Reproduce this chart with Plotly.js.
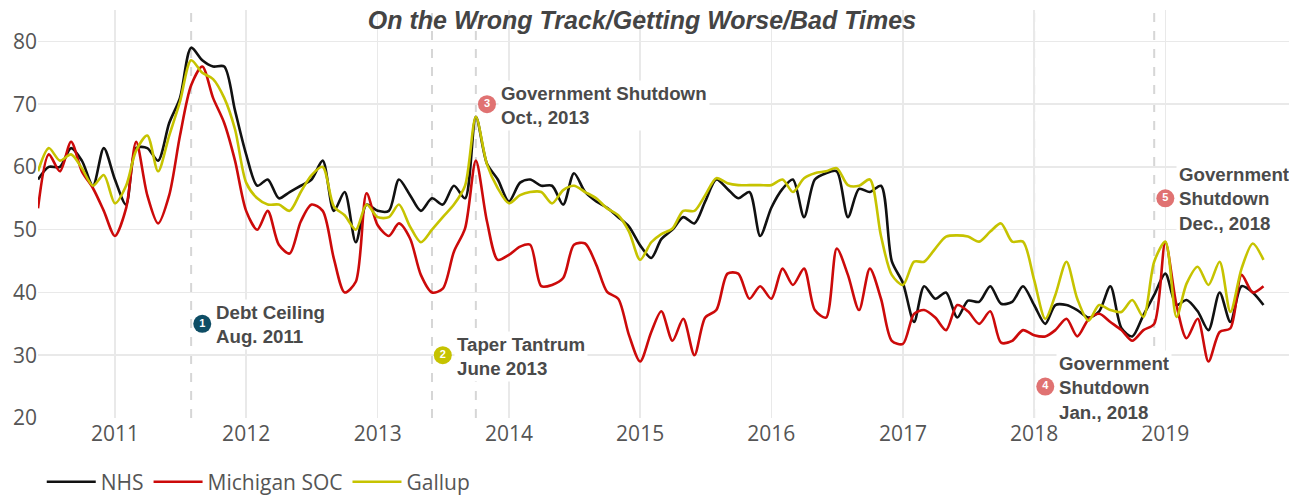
<!DOCTYPE html>
<html>
<head>
<meta charset="utf-8">
<script src="https://cdn.plot.ly/plotly-3.0.1.min.js"></script>
<style>html,body{margin:0;padding:0;background:#fff;}#chart{width:1289px;height:495px;}</style>
</head>
<body>
<div id="chart"></div>
<script>
// Monthly series, June 2010 – October 2019
var startYear = 2010, startMonth = 6, nMonths = 113;
var months = [];
for (var i = 0; i < nMonths; i++) {
  var mm = startMonth - 1 + i;
  var y = startYear + Math.floor(mm / 12);
  var m = (mm % 12) + 1;
  months.push(y + '-' + (m < 10 ? '0' + m : m) + '-01');
}

var nhs = [58,60,60,63,61,57,63,58,54,63, 63,61,67,71,79,77,76,76,69,62,
           57,58,55,56,57,58,61,53,56,48, 54,53,53,58,55.5,53,55,54,57,55,
           68,60.5,58,54.5,57.5,58,57,57,54,59, 56,54.5,53.5,52,50.5,47.5,45.5,48.5,50,52,
           51,54.5,58,56.5,55,56,49,53.5,56.5,58, 52,58,59,59.3,52,56.5,56,57,45,41.5,
           35.3,41,39,40,36,38.7,38.5,41,38.2,38.5, 41,38,35,38,38,37.2,36,37,41,34.3,
           33,36.4,39.6,43,38,38.8,37,34,40,35.3, 41,40,38];

var michigan = [53.4,62,59.3,64,59.3,56.6,53,49,53.4,64, 55.5,51,55.5,65,73,76,71,67,61,53,
                50,53,47.6,46.2,51.3,54,53,45.4,40,41.7, 55.8,50.7,49,51,48.6,42.8,40,40.6,46.5,50.2,
                61,51.3,45.2,46,47.3,47.6,41,41.2,42.3,47.6, 47.8,44.4,40.1,39,33.2,29,33.7,37,32.3,35.8,
                30,36,37.2,43,43,39,41,39,43.8,41.2, 43.8,37.2,36,47,42.8,37.2,43.8,39,32.3,31.8,
                36.6,37.2,36,34,38,37,35,37,32,32.3, 34,33.2,33,34,35.8,33,35.7,36.6,35.3,34,
                32.3,34,35,48,38,32.7,35.8,29,33.7,34.3, 42.8,40,41];

var gallup = [59.3,63,61,62,59.8,57,58.7,54.2,57,62.6, 65,59.3,65,70.4,77,75,74,71,66,57.5,
              55,54,54,53,56,58.7,60,53.7,52.3,50, 54,52,52,54,50.5,48,50,52,54,57,
              68,60.4,56.6,54.2,55.5,56,56,54.2,56.3,57, 56,55,53.4,52.3,49.7,45.2,48,49.3,50.2,53,
              53,55.5,58.2,57.4,57.1,57.1,57.1,57.1,58,56, 58.2,59,59.3,59.8,57.1,57,58,49,42.8,41.2,
              44.9,44.9,47,48.9,49.1,48.9,48.1,49.7,51,48.1, 48.1,42,35.8,39.6,44.9,39,35.5,38,37.2,36.9,
              38.8,36.1,44.9,48.1,36.1,41.4,44.1,41.2,44.9,36.9, 43.8,47.8,45.2];

var seriesNames = ['NHS', 'Michigan SOC', 'Gallup'];
var seriesColors = ['#111111', '#cc0a0a', '#c6c300'];

// Events
var eventLines = ['2011-08-01', '2013-06-01', '2013-10-01', '2018-01-01', '2018-12-01'];
var eventNums = ['1', '2', '3', '4', '5'];
var eventX = ['2011-09-01', '2013-07-01', '2013-11-01', '2018-02-01', '2019-01-01'];
var eventY = [35, 30, 70, 25, 55];
var eventColors = ['#0e4d65', '#c6c300', '#e07272', '#e07272', '#e07272'];
var eventLabels = ['Debt Ceiling<br>Aug. 2011', 'Taper Tantrum<br>June 2013',
                   'Government Shutdown<br>Oct., 2013', 'Government<br>Shutdown<br>Jan., 2018',
                   'Government<br>Shutdown<br>Dec., 2018'];

var seriesData = [nhs, michigan, gallup];
var traces = seriesData.map(function (vals, k) {
  return {
    x: months, y: vals, type: 'scatter', mode: 'lines', name: seriesNames[k],
    line: {color: seriesColors[k], width: 2.6, shape: 'spline', smoothing: 0.8}
  };
});
traces.push({
  x: eventX, y: eventY, type: 'scatter', mode: 'markers+text', showlegend: false,
  text: eventNums, textposition: 'middle center',
  textfont: {family: 'Liberation Sans', size: 11, color: '#ffffff', weight: 'bold'},
  marker: {size: 18, color: eventColors}, hoverinfo: 'skip'
});

var shapes = eventLines.map(function (d) {
  return {type: 'line', xref: 'x', yref: 'paper', x0: d, x1: d, y0: 0, y1: 1,
          line: {color: '#d6d6d6', width: 2, dash: 'dash'}, layer: 'below'};
});

var annotations = eventLabels.map(function (t, k) {
  return {x: eventX[k], y: eventY[k], xref: 'x', yref: 'y', text: '<b>' + t + '</b>',
          showarrow: false, xanchor: 'left', yanchor: 'middle', align: 'left', xshift: 11,
          yshift: -1, bgcolor: '#ffffff', borderpad: 2,
          font: {family: 'Liberation Sans, Arial, sans-serif', size: 18.7, color: '#4a4a4a'}};
});

var tickFont = {family: 'Open Sans, sans-serif', size: 21, color: '#555555'};

var layout = {
  width: 1289, height: 495,
  margin: {l: 38, r: 0, t: 10, b: 77, autoexpand: false},
  paper_bgcolor: '#ffffff', plot_bgcolor: '#ffffff',
  title: {text: '<b><i>On the Wrong Track/Getting Worse/Bad Times</i></b>',
          font: {family: 'Liberation Sans, Arial, sans-serif', size: 25, color: '#444444'},
          x: 0.498, xanchor: 'center', y: 0.96, yanchor: 'middle', xref: 'container', yref: 'container'},
  xaxis: {type: 'date', range: ['2010-06-01', '2019-12-11'], tickformat: '%Y', dtick: 'M12',
          tick0: '2011-01-01', showgrid: true, gridcolor: '#e9e9e9', gridwidth: 1.5,
          zeroline: false, showline: false, ticks: '', tickfont: tickFont, ticklabelstandoff: 1,
          automargin: false},
  yaxis: {range: [20, 85], tickvals: [20, 30, 40, 50, 60, 70, 80], showgrid: true,
          gridcolor: '#e9e9e9', gridwidth: 1.5, zeroline: false, showline: false, ticks: '',
          tickfont: tickFont, automargin: false},
  legend: {orientation: 'h', x: 0.003, xanchor: 'left', y: -0.157, yanchor: 'middle',
           font: {family: 'Open Sans, sans-serif', size: 21, color: '#555555'},
           itemwidth: 49, bgcolor: 'rgba(0,0,0,0)'},
  shapes: shapes,
  annotations: annotations,
  showlegend: true
};

Plotly.newPlot('chart', traces, layout, {displayModeBar: false, staticPlot: true});
</script>
</body>
</html>
